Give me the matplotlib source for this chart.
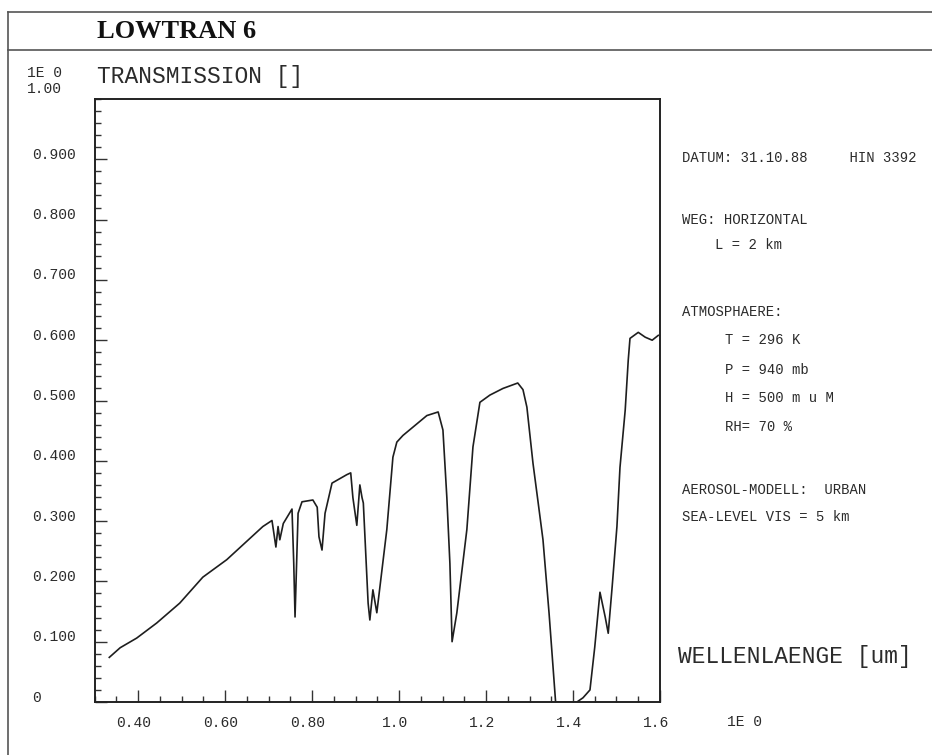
import numpy as np
import matplotlib.pyplot as plt
import matplotlib.transforms as mtransforms
from matplotlib.ticker import MultipleLocator
from matplotlib.lines import Line2D

# figure size in pixels (saved at dpi 100)
W, H = 932, 755

# Data

wavelength = [0.334, 0.359, 0.397, 0.443, 0.496, 0.549, 0.604, 0.687, 0.708,
              0.717, 0.722, 0.726, 0.734, 0.754, 0.758, 0.761, 0.768, 0.777,
              0.802, 0.812, 0.816, 0.823, 0.830, 0.846, 0.880, 0.889, 0.894,
              0.903, 0.910, 0.915, 0.918, 0.929, 0.933, 0.940, 0.949, 0.972,
              0.986, 0.995, 1.009, 1.064, 1.090, 1.101, 1.110, 1.117, 1.122,
              1.133, 1.156, 1.170, 1.186, 1.209, 1.239, 1.273, 1.285, 1.294,
              1.308, 1.320, 1.331, 1.345, 1.354, 1.360, 1.409, 1.423, 1.439,
              1.450, 1.462, 1.474, 1.481, 1.490, 1.501, 1.508, 1.520, 1.527,
              1.531, 1.550, 1.566, 1.582, 1.596]

transmission = [0.074, 0.090, 0.106, 0.131, 0.164, 0.207, 0.236, 0.291, 0.301,
                0.257, 0.291, 0.269, 0.296, 0.320, 0.231, 0.141, 0.313, 0.332,
                0.335, 0.323, 0.274, 0.252, 0.313, 0.363, 0.377, 0.380, 0.339,
                0.293, 0.360, 0.339, 0.330, 0.164, 0.136, 0.186, 0.148, 0.286,
                0.406, 0.431, 0.442, 0.475, 0.481, 0.451, 0.339, 0.230, 0.100,
                0.148, 0.286, 0.423, 0.497, 0.509, 0.520, 0.529, 0.518, 0.489,
                0.396, 0.330, 0.269, 0.147, 0.059, 0.0, 0.0, 0.007, 0.020,
                0.091, 0.182, 0.141, 0.114, 0.191, 0.291, 0.389, 0.484, 0.567,
                0.603, 0.613, 0.605, 0.600, 0.608]

x_ticks = [0.40, 0.60, 0.80, 1.0, 1.2, 1.4, 1.6]
x_tick_labels = ['0.40', '0.60', '0.80', '1.0', '1.2', '1.4', '1.6']

y_ticks = [0.0, 0.1, 0.2, 0.3, 0.4, 0.5, 0.6, 0.7, 0.8, 0.9]
y_tick_labels = ['0', '0.100', '0.200', '0.300', '0.400', '0.500',
                 '0.600', '0.700', '0.800', '0.900']

# plotter-like lettering
PLOT_FONT = ['Liberation Mono', 'DejaVu Sans Mono']
INK = '#2b2b2b'


def fx(px):
    return px / W


def fy(py):
    return 1 - py / H


def draw_frame(fig):
    # outer page frame and the line under the title
    kw = dict(color='#555555', lw=1.2, transform=fig.transFigure)
    fig.add_artist(Line2D([fx(8), fx(8)], [fy(12), 0], **kw))
    fig.add_artist(Line2D([fx(8), 1], [fy(12), fy(12)], **kw))
    fig.add_artist(Line2D([fx(8), 1], [fy(50), fy(50)], **kw))

    fig.text(fx(97), fy(31), 'LOWTRAN 6', ha='left', va='center',
             family=['Liberation Serif', 'DejaVu Serif'], weight='bold',
             fontsize=19, color='#111111')


def draw_info(fig):
    kw = dict(ha='left', va='center', family=PLOT_FONT, fontsize=10, color=INK)
    fig.text(fx(682), fy(158), 'DATUM: 31.10.88     HIN 3392', **kw)
    fig.text(fx(682), fy(220), 'WEG: HORIZONTAL', **kw)
    fig.text(fx(715), fy(245), 'L = 2 km', **kw)
    fig.text(fx(682), fy(312), 'ATMOSPHAERE:', **kw)
    fig.text(fx(725), fy(340), 'T = 296 K', **kw)
    fig.text(fx(725), fy(370), 'P = 940 mb', **kw)
    fig.text(fx(725), fy(398), 'H = 500 m u M', **kw)
    fig.text(fx(725), fy(427), 'RH= 70 %', **kw)
    fig.text(fx(682), fy(490), 'AEROSOL-MODELL:  URBAN', **kw)
    fig.text(fx(682), fy(517), 'SEA-LEVEL VIS = 5 km', **kw)


def main():

    fig = plt.figure(figsize=(W / 100, H / 100), dpi=100)
    ax = fig.add_axes([fx(94.5), fy(702), fx(660) - fx(94.5), fy(99) - fy(702)])

    ax.plot(wavelength, transmission, color='#1e1e1e', lw=1.2)

    ax.set_xlim(0.30, 1.60)
    ax.set_ylim(0.0, 1.0)

    ax.set_xticks(x_ticks)
    ax.set_xticklabels(x_tick_labels)
    ax.xaxis.set_minor_locator(MultipleLocator(0.05))
    ax.set_yticks(y_ticks)
    ax.set_yticklabels(y_tick_labels)
    ax.yaxis.set_minor_locator(MultipleLocator(0.02))

    ax.tick_params(which='both', direction='in', top=False, right=False,
                   color='#333333', width=1.0)
    ax.tick_params(which='major', length=8.5)
    ax.tick_params(which='minor', length=4.5)
    ax.tick_params(axis='x', which='major', pad=10)
    ax.tick_params(axis='y', which='major', pad=45)

    # the plotter wrote its numbers a little left / above the tick marks
    x_shift = mtransforms.ScaledTranslation(-0.04, 0, fig.dpi_scale_trans)
    y_shift = mtransforms.ScaledTranslation(0, 0.06, fig.dpi_scale_trans)

    for lbl in ax.get_xticklabels():
        lbl.set_transform(lbl.get_transform() + x_shift)
    for lbl in ax.get_yticklabels():
        lbl.set_ha('left')
        lbl.set_transform(lbl.get_transform() + y_shift)
    for lbl in ax.get_xticklabels() + ax.get_yticklabels():
        lbl.set_family(PLOT_FONT)
        lbl.set_fontsize(10.5)
        lbl.set_color(INK)

    for side in ax.spines.values():
        side.set_linewidth(1.4)
        side.set_color('#222222')

    # axis captions in plotter style
    fig.text(fx(27), fy(73), '1E 0', ha='left', va='center',
             family=PLOT_FONT, fontsize=10.5, color=INK)
    fig.text(fx(27), fy(89), '1.00', ha='left', va='center',
             family=PLOT_FONT, fontsize=10.5, color=INK)
    fig.text(fx(97), fy(77), 'TRANSMISSION []', ha='left', va='center',
             family=PLOT_FONT, fontsize=16.5, color=INK)
    fig.text(fx(678), fy(657), 'WELLENLAENGE [um]', ha='left', va='center',
             family=PLOT_FONT, fontsize=16.5, color=INK)
    fig.text(fx(727), fy(722), '1E 0', ha='left', va='center',
             family=PLOT_FONT, fontsize=10.5, color=INK)

    draw_frame(fig)
    draw_info(fig)

    plt.savefig('out.png', dpi=100)


if __name__ == "__main__":
    main()
